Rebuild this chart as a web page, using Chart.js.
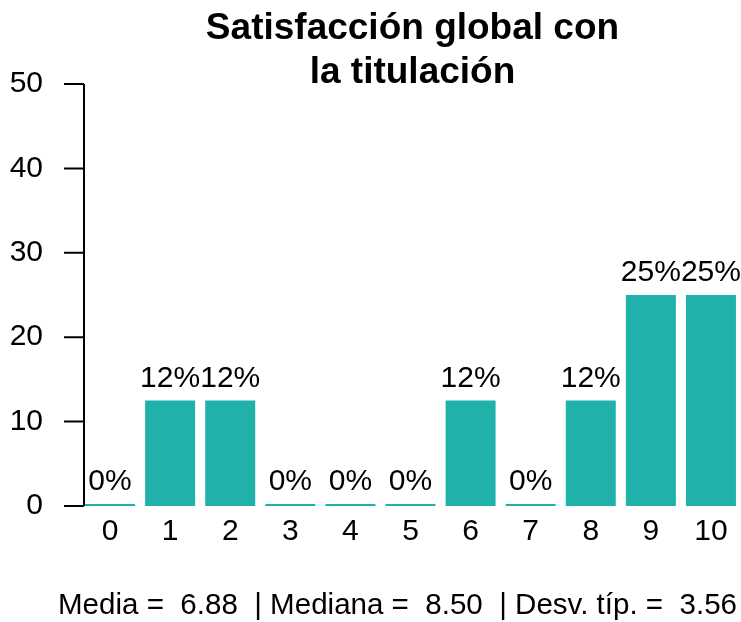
<!DOCTYPE html>
<html>
<head>
<meta charset="utf-8">
<script src="https://cdn.jsdelivr.net/npm/chart.js@4"></script>
<style>
  html, body { margin: 0; padding: 0; background: #fff; overflow: hidden; }
  #wrap { width: 741px; height: 622px; }
</style>
</head>
<body>
<div id="wrap"><canvas id="chart" width="741" height="622"></canvas></div>
<script>
// datos
const categorias = ['0', '1', '2', '3', '4', '5', '6', '7', '8', '9', '10'];
const porcentajes = [0, 12.5, 12.5, 0, 0, 0, 12.5, 0, 12.5, 25, 25];
const yMax = 50;
const yPaso = 10;
const tituloLineas = ['Satisfacción global con', 'la titulación'];
const pieTexto = 'Media =  6.88  | Mediana =  8.50  | Desv. típ. =  3.56';

const colorBarra = '#20B2AA';
const fuente = "'Liberation Sans', Arial, sans-serif";

// redondeo como R (mitad al par): 12.5 -> 12
function redondeoPar(v) {
    const f = Math.floor(v);
    const d = v - f;
    if (d > 0.5) return f + 1;
    if (d < 0.5) return f;
    return f % 2 === 0 ? f : f + 1;
}

const etiquetasBarras = {
    id: 'etiquetasBarras',
    afterDatasetsDraw(chart) {
        const ctx = chart.ctx;
        const meta = chart.getDatasetMeta(0);
        ctx.save();
        ctx.font = '30px ' + fuente;
        ctx.fillStyle = '#000';
        ctx.textAlign = 'center';
        ctx.textBaseline = 'alphabetic';
        meta.data.forEach((bar, i) => {
            ctx.fillText(redondeoPar(porcentajes[i]) + '%', bar.x, bar.y - 14);
        });
        ctx.restore();
    }
};

// eje y al estilo R: línea separada un poco de la primera barra
const ejeY = {
    id: 'ejeY',
    afterDraw(chart) {
        const ctx = chart.ctx;
        const y = chart.scales.y;
        const x0 = chart.chartArea.left + 4;
        ctx.save();
        ctx.strokeStyle = '#000';
        ctx.lineWidth = 2;
        ctx.beginPath();
        ctx.moveTo(x0, y.getPixelForValue(y.min));
        ctx.lineTo(x0, y.getPixelForValue(y.max));
        y.ticks.forEach(t => {
            const py = y.getPixelForValue(t.value);
            ctx.moveTo(x0 - 20, py);
            ctx.lineTo(x0, py);
        });
        ctx.stroke();
        ctx.restore();
    }
};

const tituloYPie = {
    id: 'tituloYPie',
    afterDraw(chart) {
        const ctx = chart.ctx;
        const area = chart.chartArea;
        const cx = (area.left + 4 + area.right) / 2;
        ctx.save();
        ctx.fillStyle = '#000';
        ctx.textAlign = 'center';
        ctx.textBaseline = 'alphabetic';
        ctx.font = 'bold 37px ' + fuente;
        tituloLineas.forEach((linea, i) => {
            ctx.fillText(linea, cx, 39 + i * 44);
        });
        // pie: letra algo estrecha, como en el original
        ctx.font = '30px ' + fuente;
        const ancho = ctx.measureText(pieTexto).width;
        const k = Math.min(1, 679 / ancho);
        ctx.translate(397.5, 614);
        ctx.scale(k, 1);
        ctx.fillText(pieTexto, 0, 0);
        ctx.restore();
    }
};

new Chart(document.getElementById('chart'), {
    type: 'bar',
    data: {
        labels: categorias,
        datasets: [{
            data: porcentajes,
            backgroundColor: colorBarra,
            borderWidth: 0,
            minBarLength: 2,
            barPercentage: 0.832,
            categoryPercentage: 1
        }]
    },
    options: {
        responsive: false,
        animation: false,
        layout: { padding: { top: 84, bottom: 76, left: 0, right: 0 } },
        plugins: {
            legend: { display: false },
            tooltip: { enabled: false }
        },
        scales: {
            x: {
                grid: { display: false },
                border: { display: false },
                ticks: {
                    color: '#000',
                    font: { family: fuente, size: 30 },
                    padding: 0,
                    maxRotation: 0
                },
                afterFit(scale) { scale.height = 40; }
            },
            y: {
                min: 0,
                max: yMax,
                ticks: {
                    stepSize: yPaso,
                    color: '#000',
                    font: { family: fuente, size: 30 },
                    padding: 29
                },
                grid: { display: false },
                border: { display: false },
                afterFit(scale) { scale.width = 80; }
            }
        }
    },
    plugins: [etiquetasBarras, ejeY, tituloYPie]
});
</script>
</body>
</html>
